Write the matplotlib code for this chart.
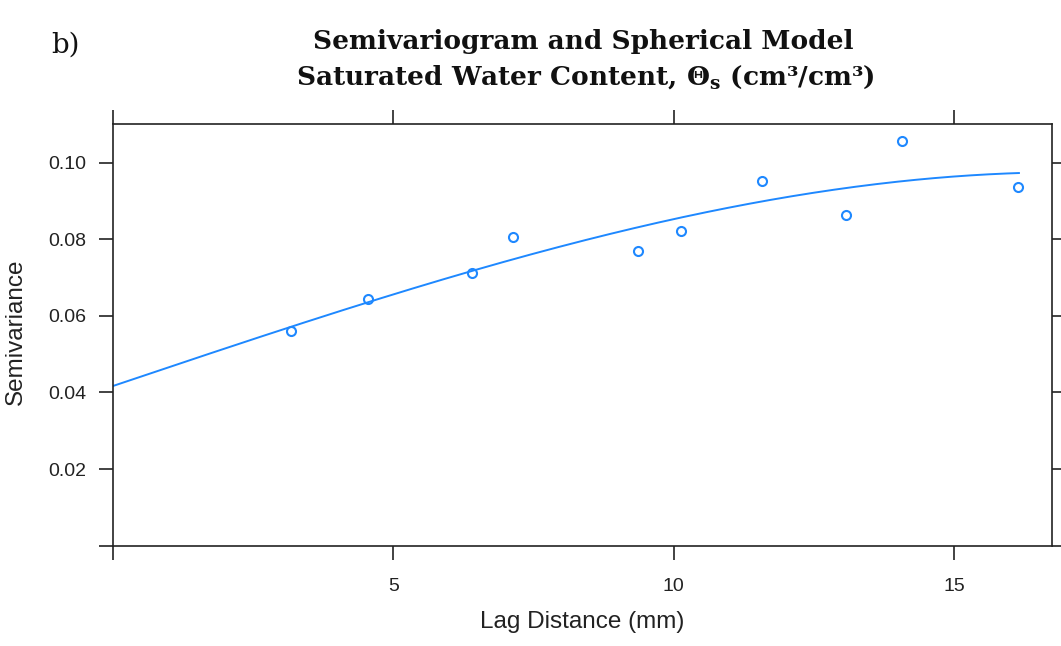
import numpy as np
import matplotlib
matplotlib.use("Agg")
import matplotlib.pyplot as plt

# ---- data ----
lag_distance = [3.18, 4.54, 6.41, 7.14, 9.36, 10.14, 11.57, 13.07, 14.07, 16.14]
semivariance = [0.0561, 0.0644, 0.0712, 0.0806, 0.0769, 0.0821, 0.0952, 0.0863, 0.1056, 0.0936]
# spherical model parameters
nugget = 0.0417
psill = 0.0558
model_range = 17.0
model_max_dist = 16.16

x_ticks = [0, 5, 10, 15]
x_ticklabels = ["", "5", "10", "15"]
y_ticks = [0.0, 0.02, 0.04, 0.06, 0.08, 0.10]
y_ticklabels = ["", "0.02", "0.04", "0.06", "0.08", "0.10"]

plt.rcParams['mathtext.fontset'] = 'dejavuserif'

W, H = 1061, 646
L, R, T, B = 113, 1052, 124, 545.7
fig = plt.figure(figsize=(W / 100, H / 100), dpi=100)
ax = fig.add_axes([L / W, 1 - B / H, (R - L) / W, (B - T) / H])

blue = "#1E88FF"
h = np.linspace(0, model_max_dist, 300)
hr = np.minimum(h / model_range, 1.0)
gamma = nugget + psill * (1.5 * hr - 0.5 * hr ** 3)
ax.plot(h, gamma, color=blue, lw=1.4)
ax.plot(lag_distance, semivariance, linestyle="none", marker="o", markersize=6.5,
        markerfacecolor="none", markeredgecolor=blue, markeredgewidth=1.5)

ax.set_xlim(0, 16.75)
ax.set_ylim(0, 0.1101)

ax.set_xticks(x_ticks)
ax.set_xticklabels(x_ticklabels)
ax.set_yticks(y_ticks)
ax.set_yticklabels(y_ticklabels)

for lab in ax.get_xticklabels() + ax.get_yticklabels():
    lab.set_fontfamily("Liberation Sans")
    lab.set_fontsize(14)
    lab.set_color("#222222")

ax.tick_params(axis="both", which="both", direction="out", length=10, width=1.2,
               color="#222222", top=True, right=True, labeltop=False, labelright=False)
ax.tick_params(axis="x", pad=13)
ax.tick_params(axis="y", pad=9)

for s in ax.spines.values():
    s.set_linewidth(1.2)
    s.set_color("#222222")

ax.set_xlabel("Lag Distance (mm)", fontfamily="Liberation Sans", fontsize=17.5, color="#222222")
ax.set_ylabel("Semivariance", fontfamily="Liberation Sans", fontsize=17.5, color="#222222")
ax.xaxis.set_label_coords((582 - L) / (R - L), -(611 - B) / (B - T))
ax.yaxis.set_label_coords(-(L - 27) / (R - L), (B - 332) / (B - T))

fig.text(583 / W, 1 - 41 / H, "Semivariogram and Spherical Model", ha="center", va="center",
         fontfamily="DejaVu Serif", fontweight="bold", fontsize=19, color="#111111")
fig.text(585 / W, 1 - 77 / H, "Saturated Water Content, Θ$_{\\mathbf{s}}$ (cm³/cm³)",
         ha="center", va="center",
         fontfamily="DejaVu Serif", fontweight="bold", fontsize=19, color="#111111")
fig.text(66 / W, 1 - 45 / H, "b)", ha="center", va="center",
         fontfamily="DejaVu Serif", fontsize=20, color="#111111")

fig.savefig("out.png", dpi=100)
